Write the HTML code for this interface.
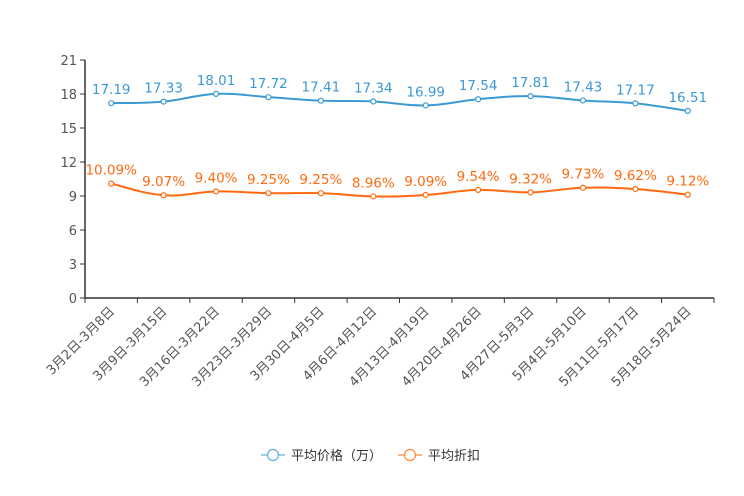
<!DOCTYPE html>
<html><head><meta charset="utf-8"><style>
body{margin:0;background:#fff;}
svg{display:block;font-family:"DejaVu Sans","Noto Sans CJK SC",sans-serif;}
</style></head><body>
<svg id="c" width="744" height="496"></svg>
<script>
const categories=["3月2日-3月8日","3月9日-3月15日","3月16日-3月22日","3月23日-3月29日","3月30日-4月5日","4月6日-4月12日","4月13日-4月19日","4月20日-4月26日","4月27日-5月3日","5月4日-5月10日","5月11日-5月17日","5月18日-5月24日"];
const priceValues=[17.19,17.33,18.01,17.72,17.41,17.34,16.99,17.54,17.81,17.43,17.17,16.51];
const discountValues=[10.09,9.07,9.40,9.25,9.25,8.96,9.09,9.54,9.32,9.73,9.62,9.12];
const yTicks=[0,3,6,9,12,15,18,21];
const svg=document.getElementById('c');const NS='http://www.w3.org/2000/svg';
function el(t,a,p){const e=document.createElementNS(NS,t);for(const k in a)e.setAttribute(k,a[k]);(p||svg).appendChild(e);return e;}
const L=85,R=714,T=60,B=298,yMax=21;
const bw=(R-L)/categories.length;
const x=i=>L+bw*(i+0.5);
const y=v=>B-(v/yMax)*(B-T);
const ax=el('g',{});

el('line',{x1:L,y1:T,x2:L,y2:B,stroke:'#333','stroke-width':1.5},ax);
yTicks.forEach(v=>{el('line',{x1:L-5,y1:y(v),x2:L,y2:y(v),stroke:'#333'},ax);
const t=el('text',{x:L-8,y:y(v)+5,'text-anchor':'end','font-size':13,fill:'#555'},ax);t.textContent=v;
});
const xa=el('g',{});

el('line',{x1:L,y1:B,x2:R,y2:B,stroke:'#333','stroke-width':1.5},xa);
for(let i=0;i<=categories.length;i++)el('line',{x1:L+bw*i,y1:B,x2:L+bw*i,y2:B+5,stroke:'#333'},xa);
categories.forEach((c,i)=>{const t=el('text',{x:x(i)+4,y:B+14,'text-anchor':'end','font-size':13,fill:'#555',transform:`rotate(-45 ${x(i)+4} ${B+14})`},xa);t.textContent=c;
});
function path(vals){const p=vals.map((v,i)=>[x(i),y(v)]);let d=`M${p[0][0]},${p[0][1]}`;
for(let i=0;i<p.length-1;i++){const p0=p[i-1]||p[i],p1=p[i],p2=p[i+1],p3=p[i+2]||p2;const s=0.2;
d+=` C${p1[0]+(p2[0]-p0[0])*s},${p1[1]+(p2[1]-p0[1])*s} ${p2[0]-(p3[0]-p1[0])*s},${p2[1]-(p3[1]-p1[1])*s} ${p2[0]},${p2[1]}`;}return d;}
function series(vals,color,name,fmt){const g=el('g',{});

el('path',{d:path(vals),fill:'none',stroke:color,'stroke-width':2},g);
vals.forEach((v,i)=>{const c=el('circle',{cx:x(i),cy:y(v),r:2.5,fill:'#fff',stroke:color,'stroke-width':1.2},g);

const t=el('text',{x:x(i),y:y(v)-9,'text-anchor':'middle','font-size':13.5,fill:color},g);t.textContent=fmt(v);
});}
series(priceValues,'#3a9ad3','price-series',v=>v.toFixed(2));
series(discountValues,'#ff6a10','discount-series',v=>v.toFixed(2)+'%');
function legend(x0,color,label,name){const g=el('g',{});

el('line',{x1:x0,y1:455,x2:x0+24,y2:455,stroke:color,'stroke-width':1.2},g);
el('circle',{cx:x0+12,cy:455,r:5.5,fill:'#fff',stroke:color,'stroke-width':1.2},g);
const t=el('text',{x:x0+30,y:460,'font-size':13,fill:'#333'},g);t.textContent=label;}
legend(261,'#5fb0e0','平均价格（万）','legend-price');
legend(398,'#ff8a3d','平均折扣','legend-discount');
</script>
</body></html>
